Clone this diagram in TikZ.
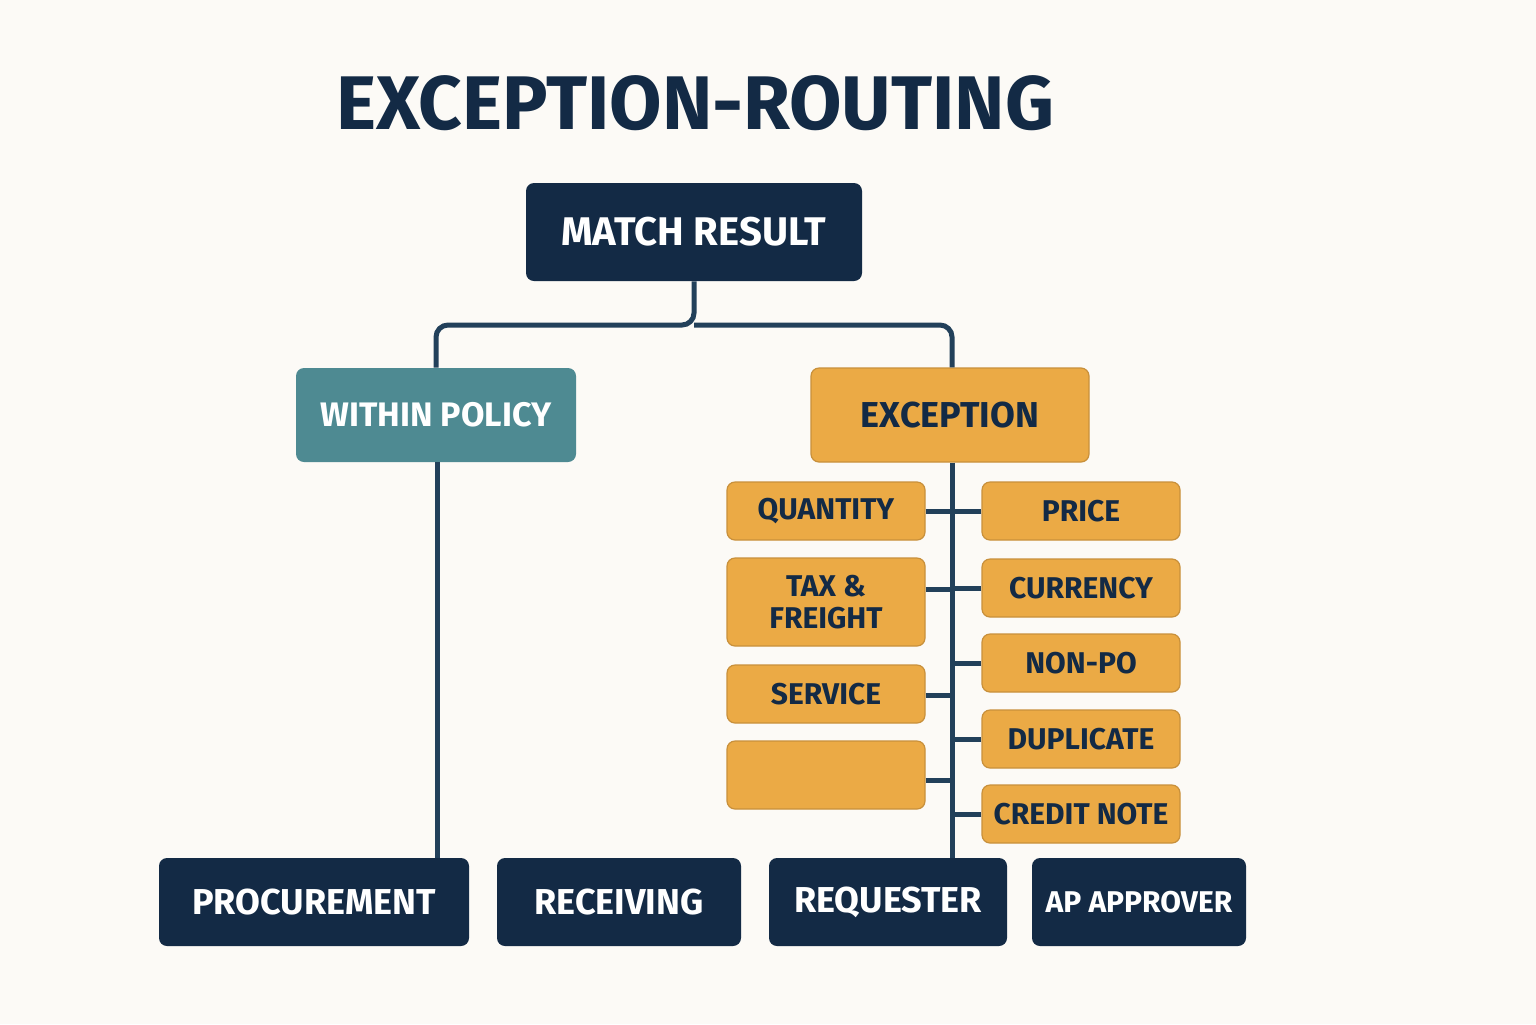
\documentclass[tikz,border=0pt]{standalone}
\usepackage{fontspec}
\setmainfont{Fira Sans}
\usetikzlibrary{positioning}
\definecolor{navy}{HTML}{132A45}
\definecolor{teal}{HTML}{4E8A92}
\definecolor{amber}{HTML}{EBAA45}
\definecolor{paper}{HTML}{FCFAF6}
\definecolor{wire}{HTML}{22405A}
\tikzset{
  box/.style={rounded corners=4pt, inner sep=0pt, align=center, font=\bfseries},
  dark/.style={box, fill=navy, text=white},
  policy/.style={box, fill=teal, text=white},
  excp/.style={box, fill=amber, draw=amber!85!black, line width=0.6pt, text=navy},
  kind/.style={excp, minimum width=99pt, font=\bfseries\fontsize{15}{16}\selectfont},
  wire/.style={draw=wire, line width=2.5pt, rounded corners=6pt}
}
\begin{document}
\begin{tikzpicture}[x=0.5pt, y=-0.5pt]
    % Background and bounds
    \fill[paper] (0,0) rectangle (1536,1024);
    \useasboundingbox (0,0) rectangle (1536,1024);

    % Title
    \node[font=\bfseries\fontsize{38}{40}\selectfont, text=navy] (title) at (695,103) {EXCEPTION-ROUTING};

    % Top levels
    \node[dark, minimum width=168pt, minimum height=49pt, font=\bfseries\fontsize{20}{22}\selectfont] (match) at (694,232) {MATCH RESULT};
    \node[policy, minimum width=140pt, minimum height=47pt, font=\bfseries\fontsize{17}{19}\selectfont] (within) at (436,415) {WITHIN POLICY};
    \node[excp, minimum width=139pt, minimum height=47pt, font=\bfseries\fontsize{18}{20}\selectfont] (exception) at (950,415) {EXCEPTION};

    % Exception kinds
    \node[kind, minimum height=29pt] (quantity) at (826,511) {QUANTITY};
    \node[kind, minimum height=44pt] (tax) at (826,602) {TAX \&\\FREIGHT};
    \node[kind, minimum height=29pt] (service) at (826,694) {SERVICE};
    \node[kind, minimum height=34pt] (blank) at (826,775) {};
    \node[kind, minimum height=29pt] (price) at (1081,511) {PRICE};
    \node[kind, minimum height=29pt] (currency) at (1081,588) {CURRENCY};
    \node[kind, minimum height=29pt] (nonpo) at (1081,663) {NON-PO};
    \node[kind, minimum height=29pt] (duplicate) at (1081,739) {DUPLICATE};
    \node[kind, minimum height=29pt] (credit) at (1081,814) {CREDIT NOTE};

    % Owners
    \node[dark, minimum width=155pt, minimum height=44pt, font=\bfseries\fontsize{18}{20}\selectfont] (procurement) at (314,902) {PROCUREMENT};
    \node[dark, minimum width=122pt, minimum height=44pt, font=\bfseries\fontsize{18}{20}\selectfont] (receiving) at (619,902) {RECEIVING};
    \node[dark, minimum width=119pt, minimum height=44pt, font=\bfseries\fontsize{18}{20}\selectfont] (requester) at (888,902) {REQUESTER};
    \node[dark, minimum width=107pt, minimum height=44pt, font=\bfseries\fontsize{15}{17}\selectfont] (approver) at (1139,902) {AP APPROVER};

    % Connectors
    \coordinate (split) at (694,325);
    \draw[wire] (match.south) -- (split) -| (within.north);
    \draw[wire] (split) -| ([xshift=1pt]exception.north);
    \draw[wire] ([xshift=0.5pt]within.south) -- ([xshift=0.5pt]within.south |- procurement.north);
    \draw[wire] ([xshift=1pt]exception.south) -- ([xshift=1pt]exception.south |- requester.north);
    \foreach \k/\y in {quantity/511, tax/589, service/695, blank/780}
        \draw[wire] (\k.east |- 0,\y) -- ([xshift=1pt]exception.south |- 0,\y);
    \foreach \k in {price, currency, nonpo, duplicate, credit}
        \draw[wire] (\k.west) -- ([xshift=1pt]exception.south |- \k.west);
\end{tikzpicture}
\end{document}
